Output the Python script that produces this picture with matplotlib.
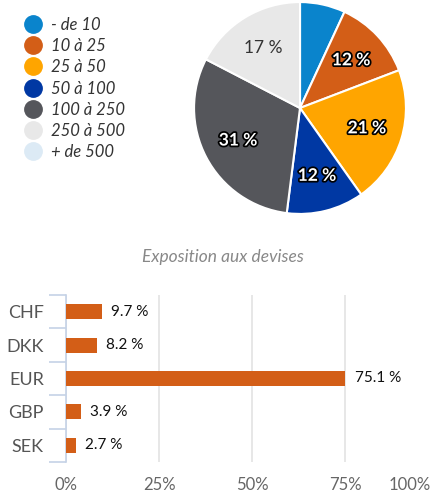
import matplotlib
matplotlib.use("Agg")
import matplotlib.pyplot as plt
import matplotlib.patheffects as pe
from matplotlib.lines import Line2D
from matplotlib.transforms import ScaledTranslation
import numpy as np

plt.rcParams['font.family'] = ['Lato', 'DejaVu Sans']

# Pie data
pie_labels = ["- de 10", "10 à 25", "25 à 50", "50 à 100", "100 à 250", "250 à 500", "+ de 500"]
pie_values = [6.9, 12.3, 21.0, 11.8, 30.6, 17.4, 0.0]
pie_colors = ["#0A84CC", "#D35E17", "#FFA500", "#0038A3", "#55565B", "#E8E8E8", "#DCEAF5"]

# Bar data
currencies = ["CHF", "DKK", "EUR", "GBP", "SEK"]
exposure = [9.7, 8.2, 75.1, 3.9, 2.7]
xticks = [0, 25, 50, 75, 100]
xtick_labels = ["0%", "25%", "50%", "75%", "100%"]
bar_title = "Exposition aux devises"

W, H = 434, 492
fig = plt.figure(figsize=(W / 100, H / 100), dpi=100)

def px_axes(left, top, right, bottom):
    return fig.add_axes([left / W, 1 - bottom / H, (right - left) / W, (bottom - top) / H])

# ---- Pie ----
axp = px_axes(193, 1, 407, 215)
wedges, texts = axp.pie(pie_values, colors=pie_colors, startangle=90, counterclock=False,
                        wedgeprops=dict(edgecolor="white", linewidth=1.5), radius=1)
for w, v, c in zip(wedges, pie_values, pie_colors):
    if v < 10:
        continue
    ang = np.deg2rad((w.theta1 + w.theta2) / 2)
    r = 0.66
    light = c in ("#E8E8E8", "#DCEAF5")
    t = axp.text(r * np.cos(ang), r * np.sin(ang), f"{v:.0f} %", ha="center", va="center",
                 fontsize=12.5, fontweight="bold" if not light else "normal",
                 color="#333333" if light else "white")
    if not light:
        t.set_path_effects([pe.withStroke(linewidth=2.5, foreground="black")])
axp.set_xlim(-1.01, 1.01)
axp.set_ylim(-1.01, 1.01)
axp.set_aspect("equal")
axp.axis("off")

handles = [Line2D([0], [0], marker="o", linestyle="", markersize=12.5,
                  markerfacecolor=c, markeredgecolor=c) for c in pie_colors]
fig.legend(handles, pie_labels, loc="upper left", bbox_to_anchor=(25 / W, 1 - 17 / H),
           frameon=False, prop=dict(family=['Lato', 'DejaVu Sans'], style="italic", size=12),
           labelcolor="#333333", handlelength=1.0, handletextpad=0.55,
           labelspacing=0.31, borderpad=0, borderaxespad=0)

# ---- Bars ----
fig.text(223 / W, 1 - 257 / H, bar_title, ha="center", va="center", fontsize=12.5,
         style="italic", color="#888888")

axb = px_axes(66, 295, 438, 462)
y = list(range(len(currencies)))
axb.barh(y, exposure, height=0.45, color="#D35E17", zorder=3)
for yi, v in zip(y, exposure):
    axb.text(v + 2.5, yi, f"{v} %", va="center", ha="left", fontsize=11, color="#111111")
axb.set_ylim(len(currencies) - 0.5, -0.5)
axb.set_xlim(0, 100)
axb.set_yticks(y)
axb.set_yticklabels(currencies, fontsize=13, color="#555555")
axb.set_yticks([i - 0.5 for i in range(len(currencies) + 1)], minor=True)
axb.tick_params(axis="y", which="major", length=0, pad=16)
axb.tick_params(axis="y", which="minor", length=12, color="#C5D2E6", width=1.2)
axb.set_xticks(xticks)
axb.set_xticklabels(xtick_labels, fontsize=12, color="#666666")
axb.tick_params(axis="x", length=0, pad=11)
last = axb.get_xticklabels()[-1]
last.set_ha("right")
last.set_transform(last.get_transform() + ScaledTranslation(-7 / 100, 0, fig.dpi_scale_trans))
axb.grid(axis="x", color="#E3E3E3", linewidth=1.2, zorder=0)
for s in ("top", "right", "bottom"):
    axb.spines[s].set_visible(False)
axb.spines["left"].set_color("#C5D2E6")
axb.spines["left"].set_linewidth(1.2)

fig.savefig("out.png", dpi=100)
